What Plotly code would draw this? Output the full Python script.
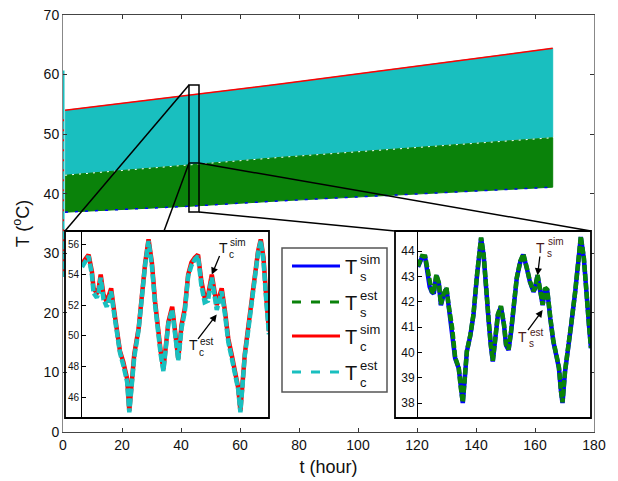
import plotly.graph_objects as go

# ---------------- data ----------------
# envelope of the fast-oscillating long-run signals (main axes)
t_band = [0.7, 43.0, 73.6, 166.0]
tc_upper = [54.0, 56.6, 58.4, 64.4]
tc_lower = [43.0, 44.7, 46.0, 49.5]
ts_upper = [43.1, 44.8, 46.1, 49.4]
ts_lower = [36.9, 37.9, 38.8, 41.1]
t_start = [0.0, 0.0]
tc_start_est = [26.0, 60.7]
tc_start_sim = [27.0, 53.0]

# zoomed window (hours)
zoom_t = [42.7, 46.1]
zoom_T = [36.93, 58.25]
zoom_split = 45.16

# left inset: T_c
t_zc = [42.70, 42.79, 42.82, 42.88, 42.91, 42.97, 43.00, 43.04, 43.09, 43.15,
        43.23, 43.27, 43.33, 43.39, 43.45, 43.52, 43.56, 43.61, 43.65, 43.73,
        43.79, 43.85, 43.91, 43.97, 44.03, 44.09, 44.13, 44.18, 44.23, 44.27,
        44.34, 44.39, 44.45, 44.51, 44.57, 44.63, 44.69, 44.75, 44.81, 44.87,
        44.93, 44.99, 45.06, 45.15, 45.24, 45.30, 45.36, 45.42, 45.48, 45.54,
        45.58, 45.62, 45.66, 45.72, 45.78, 45.84, 45.90, 45.95, 46.00, 46.05, 46.10]
tc_sim = [54.7, 55.1, 55.3, 54.2, 53.1, 52.8, 53.0, 54.0, 52.7, 52.2,
          53.1, 52.0, 50.5, 49.0, 48.3, 47.2, 45.1, 46.8, 48.8, 50.5,
          52.9, 54.8, 56.3, 54.8, 52.2, 49.8, 49.0, 47.8, 49.8, 50.9,
          51.9, 50.3, 48.5, 50.7, 51.8, 54.0, 54.8, 55.1, 55.3, 53.6,
          52.5, 52.6, 54.0, 52.0, 53.1, 51.6, 49.8, 48.8, 47.7, 46.6,
          45.1, 47.2, 48.8, 50.5, 52.2, 54.0, 55.5, 56.3, 55.1, 52.5, 50.3]
tc_est = [54.5, 55.0, 55.2, 54.0, 52.8, 52.5, 52.8, 53.8, 52.4, 51.9,
          52.9, 51.8, 50.3, 48.9, 48.1, 47.0, 45.0, 46.7, 48.6, 50.4,
          52.8, 54.7, 56.2, 54.6, 52.0, 49.6, 48.8, 47.7, 49.6, 50.8,
          51.7, 50.1, 48.4, 50.5, 51.6, 53.9, 54.6, 55.0, 55.2, 53.3,
          52.2, 52.3, 53.8, 51.7, 52.9, 51.4, 49.6, 48.6, 47.5, 46.5,
          45.0, 47.0, 48.7, 50.3, 52.0, 53.9, 55.4, 56.2, 54.9, 52.3, 50.1]

# right inset: T_s
t_zs = [42.70, 42.78, 42.84, 42.89, 42.93, 42.97, 43.01, 43.06, 43.11, 43.15,
        43.20, 43.26, 43.30, 43.37, 43.43, 43.50, 43.54, 43.58, 43.62, 43.66,
        43.73, 43.79, 43.86, 43.90, 43.94, 43.99, 44.03, 44.09, 44.13, 44.17,
        44.22, 44.27, 44.33, 44.39, 44.43, 44.48, 44.53, 44.58, 44.64, 44.71,
        44.77, 44.84, 44.90, 44.97, 45.00, 45.05, 45.10, 45.15, 45.20, 45.24,
        45.30, 45.36, 45.43, 45.47, 45.51, 45.54, 45.59, 45.64, 45.71, 45.79,
        45.85, 45.90, 45.96, 46.01, 46.06, 46.10]
ts_sim = [43.37, 43.76, 43.76, 43.20, 42.58, 42.39, 42.32, 43.04, 42.72, 41.86,
          42.26, 42.52, 41.86, 40.95, 39.77, 39.37, 38.59, 38.00, 38.98, 40.03,
          40.68, 41.47, 43.04, 43.96, 44.51, 43.83, 42.52, 41.21, 40.29, 39.64,
          40.55, 41.47, 41.80, 41.08, 40.29, 40.09, 40.81, 42.00, 42.91, 43.57,
          43.86, 43.30, 42.78, 42.39, 42.52, 43.04, 42.39, 41.86, 42.52, 42.45,
          41.34, 40.42, 39.77, 39.37, 38.46, 38.00, 39.24, 40.16, 41.08, 42.39,
          43.70, 44.55, 43.70, 42.13, 41.08, 40.16]
ts_est = [43.40, 43.80, 43.78, 43.22, 42.62, 42.42, 42.35, 43.06, 42.75, 41.90,
          42.28, 42.55, 41.88, 40.98, 39.80, 39.40, 38.62, 38.03, 39.00, 40.05,
          40.70, 41.50, 43.06, 43.98, 44.53, 43.86, 42.55, 41.24, 40.32, 39.67,
          40.58, 41.50, 41.83, 41.10, 40.32, 40.12, 40.84, 42.03, 42.93, 43.60,
          43.88, 43.33, 42.80, 42.42, 42.55, 43.06, 42.42, 41.88, 42.55, 42.48,
          41.37, 40.45, 39.80, 39.40, 38.49, 38.03, 39.27, 40.18, 41.10, 42.42,
          43.72, 44.57, 43.72, 42.16, 41.10, 40.18]

x_ticks = [0, 20, 40, 60, 80, 100, 120, 140, 160, 180]
y_ticks = [0, 10, 20, 30, 40, 50, 60, 70]
yc_ticks = [46, 48, 50, 52, 54, 56]
ys_ticks = [38, 39, 40, 41, 42, 43, 44]

legend_names = [("sim", "s"), ("est", "s"), ("sim", "c"), ("est", "c")]

# ---------------- style ----------------
BLUE = "#0000ff"
GREEN = "#0a820a"
RED = "#ff0000"
CYAN = "#19bfbf"
FONT = "Liberation Sans, Arial, sans-serif"

W, H = 618, 481
ML, MR, MT, MB = 63, 24, 15, 49
PW, PH = W - ML - MR, H - MT - MB


def px(xp, yp):
    """pixel position in the page -> paper coordinates"""
    return (xp - ML) / PW, (H - MB - yp) / PH


fig = go.Figure()

# main: T_c band (est, cyan) with sim edge in red
fig.add_trace(go.Scatter(x=t_band + t_band[::-1], y=tc_upper + tc_lower[::-1],
                         fill="toself", fillcolor=CYAN, mode="lines",
                         line=dict(color=CYAN, width=1), showlegend=False,
                         hoverinfo="skip"))
fig.add_trace(go.Scatter(x=t_band, y=tc_upper, mode="lines",
                         line=dict(color=RED, width=1.5), showlegend=False))
# main: T_s band (est, green) with sim edge in blue
fig.add_trace(go.Scatter(x=t_band + t_band[::-1], y=ts_upper + ts_lower[::-1],
                         fill="toself", fillcolor=GREEN, mode="lines",
                         line=dict(color=GREEN, width=1), showlegend=False,
                         hoverinfo="skip"))
fig.add_trace(go.Scatter(x=t_band, y=ts_upper, mode="lines",
                         line=dict(color="white", width=1, dash="2px,5px"),
                         showlegend=False))
fig.add_trace(go.Scatter(x=t_band, y=ts_lower, mode="lines",
                         line=dict(color=BLUE, width=1.5, dash="3px,7px"),
                         showlegend=False))
# initial transient at t = 0
fig.add_trace(go.Scatter(x=t_start, y=tc_start_est, mode="lines",
                         line=dict(color=CYAN, width=3), showlegend=False))
fig.add_trace(go.Scatter(x=t_start, y=tc_start_sim, mode="lines",
                         line=dict(color=RED, width=2, dash="2px,8px"),
                         showlegend=False))

# left inset (T_c)
fig.add_trace(go.Scatter(x=t_zc, y=tc_sim, mode="lines", xaxis="x2", yaxis="y2",
                         line=dict(color=RED, width=4.5), showlegend=False))
fig.add_trace(go.Scatter(x=t_zc, y=tc_est, mode="lines", xaxis="x2", yaxis="y2",
                         line=dict(color=CYAN, width=4.5, dash="8px,2px"),
                         showlegend=False))
# right inset (T_s)
fig.add_trace(go.Scatter(x=t_zs, y=ts_sim, mode="lines", xaxis="x3", yaxis="y3",
                         line=dict(color=BLUE, width=4.5), showlegend=False))
fig.add_trace(go.Scatter(x=t_zs, y=ts_est, mode="lines", xaxis="x3", yaxis="y3",
                         line=dict(color=GREEN, width=4.5, dash="7px,2px"),
                         showlegend=False))

shapes = []
# zoom rectangle and divider
shapes.append(dict(type="rect", xref="x", yref="y", x0=zoom_t[0], x1=zoom_t[1],
                   y0=zoom_T[0], y1=zoom_T[1], line=dict(color="black", width=1.5)))
shapes.append(dict(type="line", xref="x", yref="y", x0=zoom_t[0], x1=zoom_t[1],
                   y0=zoom_split, y1=zoom_split, line=dict(color="black", width=1.5)))

# inset boxes (paper)
lb0 = px(65, 418); lb1 = px(269, 231)
rb0 = px(395, 418); rb1 = px(591, 231)
for a, b in [(lb0, lb1), (rb0, rb1)]:
    shapes.append(dict(type="rect", xref="paper", yref="paper", x0=a[0], y0=a[1],
                       x1=b[0], y1=b[1], line=dict(color="black", width=1.8),
                       fillcolor="rgba(0,0,0,0)", layer="above"))

# connecting lines (paper)
for (x0, y0), (x1, y1) in [((189, 85), (65, 231)), ((189, 163), (164, 231)),
                           ((199, 163), (591, 231)), ((199, 212), (395, 231))]:
    p0 = px(x0, y0); p1 = px(x1, y1)
    shapes.append(dict(type="line", xref="paper", yref="paper", x0=p0[0], y0=p0[1],
                       x1=p1[0], y1=p1[1], line=dict(color="black", width=1.5)))

# legend box
g0 = px(282, 392); g1 = px(387, 248)
shapes.append(dict(type="rect", xref="paper", yref="paper", x0=g0[0], y0=g0[1],
                   x1=g1[0], y1=g1[1], line=dict(color="#555", width=1.5),
                   fillcolor="white", layer="above"))
leg_y = [266, 302, 336, 372]
leg_style = [(BLUE, "solid"), (GREEN, "9px,10px"), (RED, "solid"), (CYAN, "9px,10px")]
annotations = []


def txt(xx, yy, s, size, color, anchor="center"):
    p = px(xx, yy)
    annotations.append(dict(x=p[0], y=p[1], xref="paper", yref="paper", text=s,
                            showarrow=False, xanchor=anchor, yanchor="middle",
                            borderpad=0,
                            font=dict(size=size, color=color, family=FONT)))


for yy, (col, dsh), (sup, sub) in zip(leg_y, leg_style, legend_names):
    a = px(292, yy); b = px(340, yy)
    shapes.append(dict(type="line", xref="paper", yref="paper", x0=a[0], y0=a[1],
                       x1=b[0], y1=b[1], line=dict(color=col, width=3, dash=dsh),
                       layer="above"))
    txt(351, yy + 1, "T", 20, "#111")
    txt(359, yy - 7, sup, 13, "#111", "left")
    txt(359, yy + 10, sub, 13, "#111", "left")


# inset labels: "T" carries the arrow to the curve, sup/sub drawn beside it
def label(tx, ty, hx, hy, hpx, hpy, xr, yr, sup, sub, color):
    annotations.append(dict(x=hx, y=hy, xref=xr, yref=yr, text="T",
                            ax=tx - hpx, ay=ty - hpy, showarrow=True,
                            arrowhead=2, arrowsize=1.1, arrowwidth=1.3,
                            arrowcolor="black", standoff=0, borderpad=0,
                            font=dict(size=14, color=color, family=FONT)))
    txt(tx + 6, ty - 5, sup, 10, color, "left")
    txt(tx + 5, ty + 6, sub, 10, color, "left")


label(223, 248, 45.06, 54.0, 211.7, 275.0, "x2", "y2", "sim", "c", "#111")
label(193, 346, 45.15, 51.4, 216.7, 315.0, "x2", "y2", "est", "c", "#111")
label(541, 247, 45.05, 43.04, 537.7, 274.3, "x3", "y3", "sim", "s", "#4a1a1a")
label(523, 337, 45.15, 41.67, 542.7, 310.0, "x3", "y3", "est", "s", "#4a1a1a")

ld = (px(82, 0)[0], lb1[0])
rd = (px(418, 0)[0], rb1[0])
ydom = (lb0[1], lb1[1])

fig.update_layout(
    width=W, height=H,
    margin=dict(l=ML, r=MR, t=MT, b=MB, autoexpand=False),
    paper_bgcolor="white", plot_bgcolor="white",
    font=dict(family=FONT, size=14, color="#111"),
    showlegend=False,
    xaxis=dict(range=[0, 180], tickvals=x_ticks, ticks="inside", ticklen=4,
               tickcolor="#333", showline=True, linecolor="#444", linewidth=1,
               mirror="ticks", showgrid=False, zeroline=False, automargin=False,
               tickfont=dict(size=14),
               title=dict(text="t (hour)", font=dict(size=18), standoff=8)),
    yaxis=dict(range=[0, 70], tickvals=y_ticks, ticks="inside", ticklen=4,
               tickcolor="#333", showline=True, linecolor="#888", linewidth=1,
               mirror="ticks", showgrid=False, zeroline=False, automargin=False,
               tickfont=dict(size=14),
               title=dict(text="T (<sup>o</sup>C)", font=dict(size=18), standoff=9)),
    xaxis2=dict(domain=list(ld), anchor="y2", range=[42.7, 46.1],
                showticklabels=False, ticks="", showline=False, showgrid=False,
                zeroline=False, automargin=False),
    yaxis2=dict(domain=list(ydom), anchor="x2", range=[44.63, 56.85],
                tickvals=yc_ticks, ticks="inside", ticklen=4, tickcolor="black",
                showline=True, linecolor="black", linewidth=1, showgrid=False,
                zeroline=False, automargin=False, tickfont=dict(size=10)),
    xaxis3=dict(domain=list(rd), anchor="y3", range=[42.7, 46.1],
                showticklabels=False, ticks="", showline=False, showgrid=False,
                zeroline=False, automargin=False),
    yaxis3=dict(domain=list(ydom), anchor="x3", range=[37.41, 44.79],
                tickvals=ys_ticks, ticks="inside", ticklen=4, tickcolor="black",
                showline=True, linecolor="black", linewidth=1, showgrid=False,
                zeroline=False, automargin=False, tickfont=dict(size=12)),
    shapes=shapes,
    annotations=annotations,
)

fig.write_html("out.html", config={"displayModeBar": False},
               post_script="document.body.style.margin='0px';"
                           "document.body.style.overflow='hidden';")
